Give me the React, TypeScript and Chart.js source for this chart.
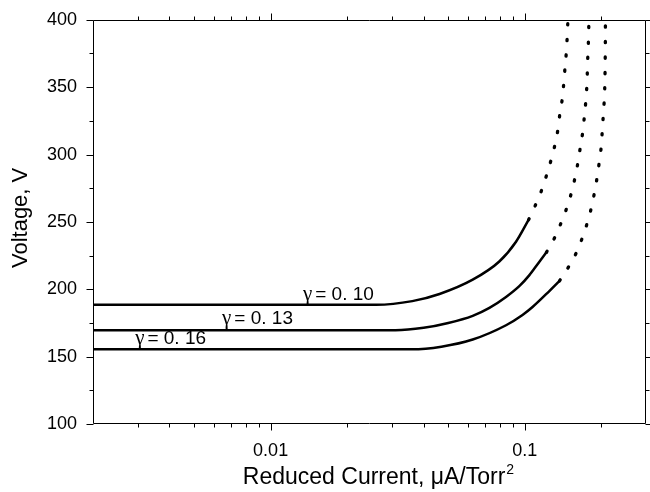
import React, { useEffect, useRef } from "react";
import { Chart, registerables } from "chart.js";

Chart.register(...registerables);

// ---- data ----
const curveNames = ["γ = 0.10", "γ = 0.13", "γ = 0.16"];
const labelText = ["= 0. 10", "= 0. 13", "= 0. 16"];
const labelX = [0.0134, 0.00644, 0.00293];
const labelY = [191.7, 174.0, 159.3];

// γ = 0.10 solid
const solidAx = [0.002, 0.026, 0.0361, 0.0462, 0.0624, 0.0794, 0.0924, 0.1035];
const solidAy = [188.5, 188.5, 191.2, 196.5, 207.1, 220.6, 235.3, 251.5];
// γ = 0.10 dotted
const dotAx = [0.1035, 0.1099, 0.1164, 0.1218, 0.127, 0.1314, 0.135, 0.1374, 0.1404, 0.1423, 0.1439, 0.1456, 0.1468, 0.1477, 0.148];
const dotAy = [251.5, 262.0, 273.3, 284.6, 296.1, 307.1, 318.4, 329.9, 341.0, 352.2, 363.7, 374.8, 386.0, 397.6, 400.0];

// γ = 0.13 solid
const solidBx = [0.002, 0.031, 0.04, 0.05, 0.0624, 0.0726, 0.0844, 0.0954, 0.1041, 0.114, 0.1217];
const solidBy = [169.6, 169.6, 171.4, 175.0, 180.3, 186.2, 194.3, 202.5, 210.3, 220.3, 227.4];
// γ = 0.13 dotted
const dotBx = [0.1217, 0.1309, 0.139, 0.1464, 0.1527, 0.1578, 0.1622, 0.1656, 0.1692, 0.1717, 0.1739, 0.1755, 0.1764, 0.1771, 0.1781, 0.1787, 0.179];
const dotBy = [227.4, 238.0, 249.3, 260.5, 271.8, 283.1, 294.9, 305.9, 317.1, 328.5, 339.7, 351.0, 362.3, 373.5, 384.8, 396.1, 400.0];

// γ = 0.16 solid
const solidCx = [0.002, 0.036, 0.047, 0.0624, 0.0844, 0.098, 0.1073, 0.1247, 0.137];
const solidCy = [155.4, 155.4, 157.4, 162.7, 173.3, 180.9, 186.8, 198.5, 206.2];
// γ = 0.16 dotted
const dotCx = [0.137, 0.1485, 0.1603, 0.1692, 0.177, 0.1835, 0.1886, 0.1931, 0.1969, 0.2002, 0.202, 0.2038, 0.2056, 0.2066, 0.2071, 0.2074, 0.2076, 0.2077, 0.2078];
const dotCy = [206.2, 216.4, 227.9, 239.2, 250.5, 261.8, 273.0, 284.3, 295.8, 307.1, 318.4, 329.6, 341.0, 352.2, 363.5, 374.8, 386.0, 397.0, 400.0];

// axes
const xMin = 0.002;
const xMax = 0.3;
const xMajorTicks = [0.01, 0.1];
const xTickLabels = ["0.01", "0.1"];
const xMinorTicks = [0.003, 0.004, 0.005, 0.006, 0.007, 0.008, 0.009, 0.02, 0.03, 0.04, 0.05, 0.06, 0.07, 0.08, 0.09, 0.2];
const yMin = 100;
const yMax = 400;
const yMajorTicks = [100, 150, 200, 250, 300, 350, 400];
const yMinorTicks = [125, 175, 225, 275, 325, 375];
const xTitleMain = "Reduced Current, μA/Torr";
const xTitleSup = "2";
const yTitle = "Voltage, V";

const SANS = "'Liberation Sans', Arial, Helvetica, sans-serif";
const SERIF = "'Liberation Serif', 'DejaVu Serif', serif";

const zip = (xs: number[], ys: number[]) => xs.map((x, i) => ({ x, y: ys[i] }));

const framePlugin = {
  id: "frameTicks",
  afterDraw(chart: any) {
    const { ctx, chartArea: a, scales } = chart;
    const xs = scales.x;
    const ys = scales.y;
    ctx.save();
    ctx.strokeStyle = "#000";
    ctx.lineWidth = 1;
    ctx.beginPath();
    const L = Math.round(a.left) + 0.5;
    const R = Math.round(a.right) - 0.5;
    const T = Math.round(a.top) + 0.5;
    const B = Math.round(a.bottom) - 0.5;
    ctx.rect(L, T, R - L, B - T);
    const xt = (v: number, len: number) => {
      const p = Math.round(xs.getPixelForValue(v)) + 0.5;
      ctx.moveTo(p, B);
      ctx.lineTo(p, B + len);
      ctx.moveTo(p, T);
      ctx.lineTo(p, T - len);
    };
    const yt = (v: number, len: number) => {
      const p = Math.round(ys.getPixelForValue(v)) + 0.5;
      ctx.moveTo(L, p);
      ctx.lineTo(L - len, p);
      ctx.moveTo(R, p);
      ctx.lineTo(R + len, p);
    };
    xMajorTicks.forEach((v) => xt(v, 7));
    xMinorTicks.forEach((v) => xt(v, 4));
    yMajorTicks.forEach((v) => yt(v, 7));
    yMinorTicks.forEach((v) => yt(v, 4));
    ctx.stroke();

    ctx.fillStyle = "#000";
    // x-axis title with a real superscript
    ctx.textBaseline = "alphabetic";
    ctx.textAlign = "left";
    ctx.font = `23px ${SANS}`;
    const mw = ctx.measureText(xTitleMain).width;
    ctx.font = `14px ${SANS}`;
    const sw = ctx.measureText(xTitleSup).width;
    const total = mw + 1 + sw;
    const cx = (a.left + a.right) / 2 + 9;
    const x0 = cx - total / 2;
    const base = a.bottom + 60;
    ctx.font = `23px ${SANS}`;
    ctx.fillText(xTitleMain, x0, base);
    ctx.font = `14px ${SANS}`;
    ctx.fillText(xTitleSup, x0 + mw + 1, base - 10);

    // y-axis title
    ctx.save();
    ctx.translate(a.left - 72, (a.top + a.bottom) / 2 - 4);
    ctx.rotate(-Math.PI / 2);
    ctx.textAlign = "center";
    ctx.textBaseline = "middle";
    ctx.font = `22px ${SANS}`;
    ctx.fillText(yTitle, 0, 0);
    ctx.restore();
    ctx.restore();
  },
  afterDatasetsDraw(chart: any) {
    const { ctx, scales } = chart;
    ctx.save();
    ctx.fillStyle = "#000";
    ctx.textBaseline = "alphabetic";
    ctx.textAlign = "left";
    for (let i = 0; i < labelText.length; i++) {
      const px = scales.x.getPixelForValue(labelX[i]);
      const py = scales.y.getPixelForValue(labelY[i]);
      ctx.font = `21px ${SERIF}`;
      ctx.fillText("γ", px, py);
      const gw = ctx.measureText("γ").width;
      ctx.font = `19px ${SANS}`;
      ctx.fillText(labelText[i], px + gw + 3, py);
    }
    ctx.restore();
  },
};

export default function App() {
  const ref = useRef<HTMLCanvasElement | null>(null);
  useEffect(() => {
    if (!ref.current) return;
    const solid = {
      borderColor: "#000",
      borderWidth: 2.5,
      pointRadius: 0,
      cubicInterpolationMode: "monotone" as const,
      fill: false,
    };
    const dotted = { ...solid, borderWidth: 3.3, borderDash: [1.3, 14.1], borderCapStyle: "round" as const };
    const chart = new Chart(ref.current, {
      type: "line",
      data: {
        datasets: [
          { label: curveNames[0], data: zip(solidAx, solidAy), ...solid },
          { label: curveNames[0] + " (extrapolated)", data: zip(dotAx, dotAy), ...dotted },
          { label: curveNames[1], data: zip(solidBx, solidBy), ...solid },
          { label: curveNames[1] + " (extrapolated)", data: zip(dotBx, dotBy), ...dotted },
          { label: curveNames[2], data: zip(solidCx, solidCy), ...solid },
          { label: curveNames[2] + " (extrapolated)", data: zip(dotCx, dotCy), ...dotted },
        ],
      },
      options: {
        responsive: false,
        animation: false,
        layout: { padding: 0 },
        plugins: { legend: { display: false }, tooltip: { enabled: false } },
        scales: {
          x: {
            type: "logarithmic",
            position: "bottom",
            min: xMin,
            max: xMax,
            grid: { display: false, drawTicks: true, tickLength: 7 },
            border: { display: false },
            afterBuildTicks: (s: any) => {
              s.ticks = xMajorTicks.map((v) => ({ value: v }));
            },
            ticks: {
              autoSkip: false,
              maxRotation: 0,
              padding: 9,
              color: "#000",
              font: { family: SANS, size: 18 },
              callback: (v: any) => {
                const i = xMajorTicks.indexOf(Number(v));
                return i >= 0 ? xTickLabels[i] : "";
              },
            },
            title: { display: false },
            afterFit: (s: any) => {
              s.height = 68;
            },
          },
          x2: {
            type: "logarithmic",
            position: "top",
            min: xMin,
            max: xMax,
            grid: { display: false },
            border: { display: false },
            ticks: { display: false },
            afterFit: (s: any) => {
              s.height = 16;
            },
          },
          y: {
            type: "linear",
            position: "left",
            min: yMin,
            max: yMax,
            grid: { display: false, drawTicks: true, tickLength: 7 },
            border: { display: false },
            ticks: {
              stepSize: 50,
              padding: 9,
              color: "#000",
              font: { family: SANS, size: 18 },
            },
            title: { display: false },
            afterFit: (s: any) => {
              s.width = 93;
            },
          },
          y2: {
            type: "linear",
            position: "right",
            min: yMin,
            max: yMax,
            grid: { display: false },
            border: { display: false },
            ticks: { display: false },
            afterFit: (s: any) => {
              s.width = 4;
            },
          },
        },
      },
      plugins: [framePlugin],
    });
    return () => chart.destroy();
  }, []);
  return (
    <div style={{ position: "fixed", left: 0, top: 0, width: 650, height: 492, background: "#fff" }}>
      <canvas ref={ref} width={650} height={492} />
    </div>
  );
}
